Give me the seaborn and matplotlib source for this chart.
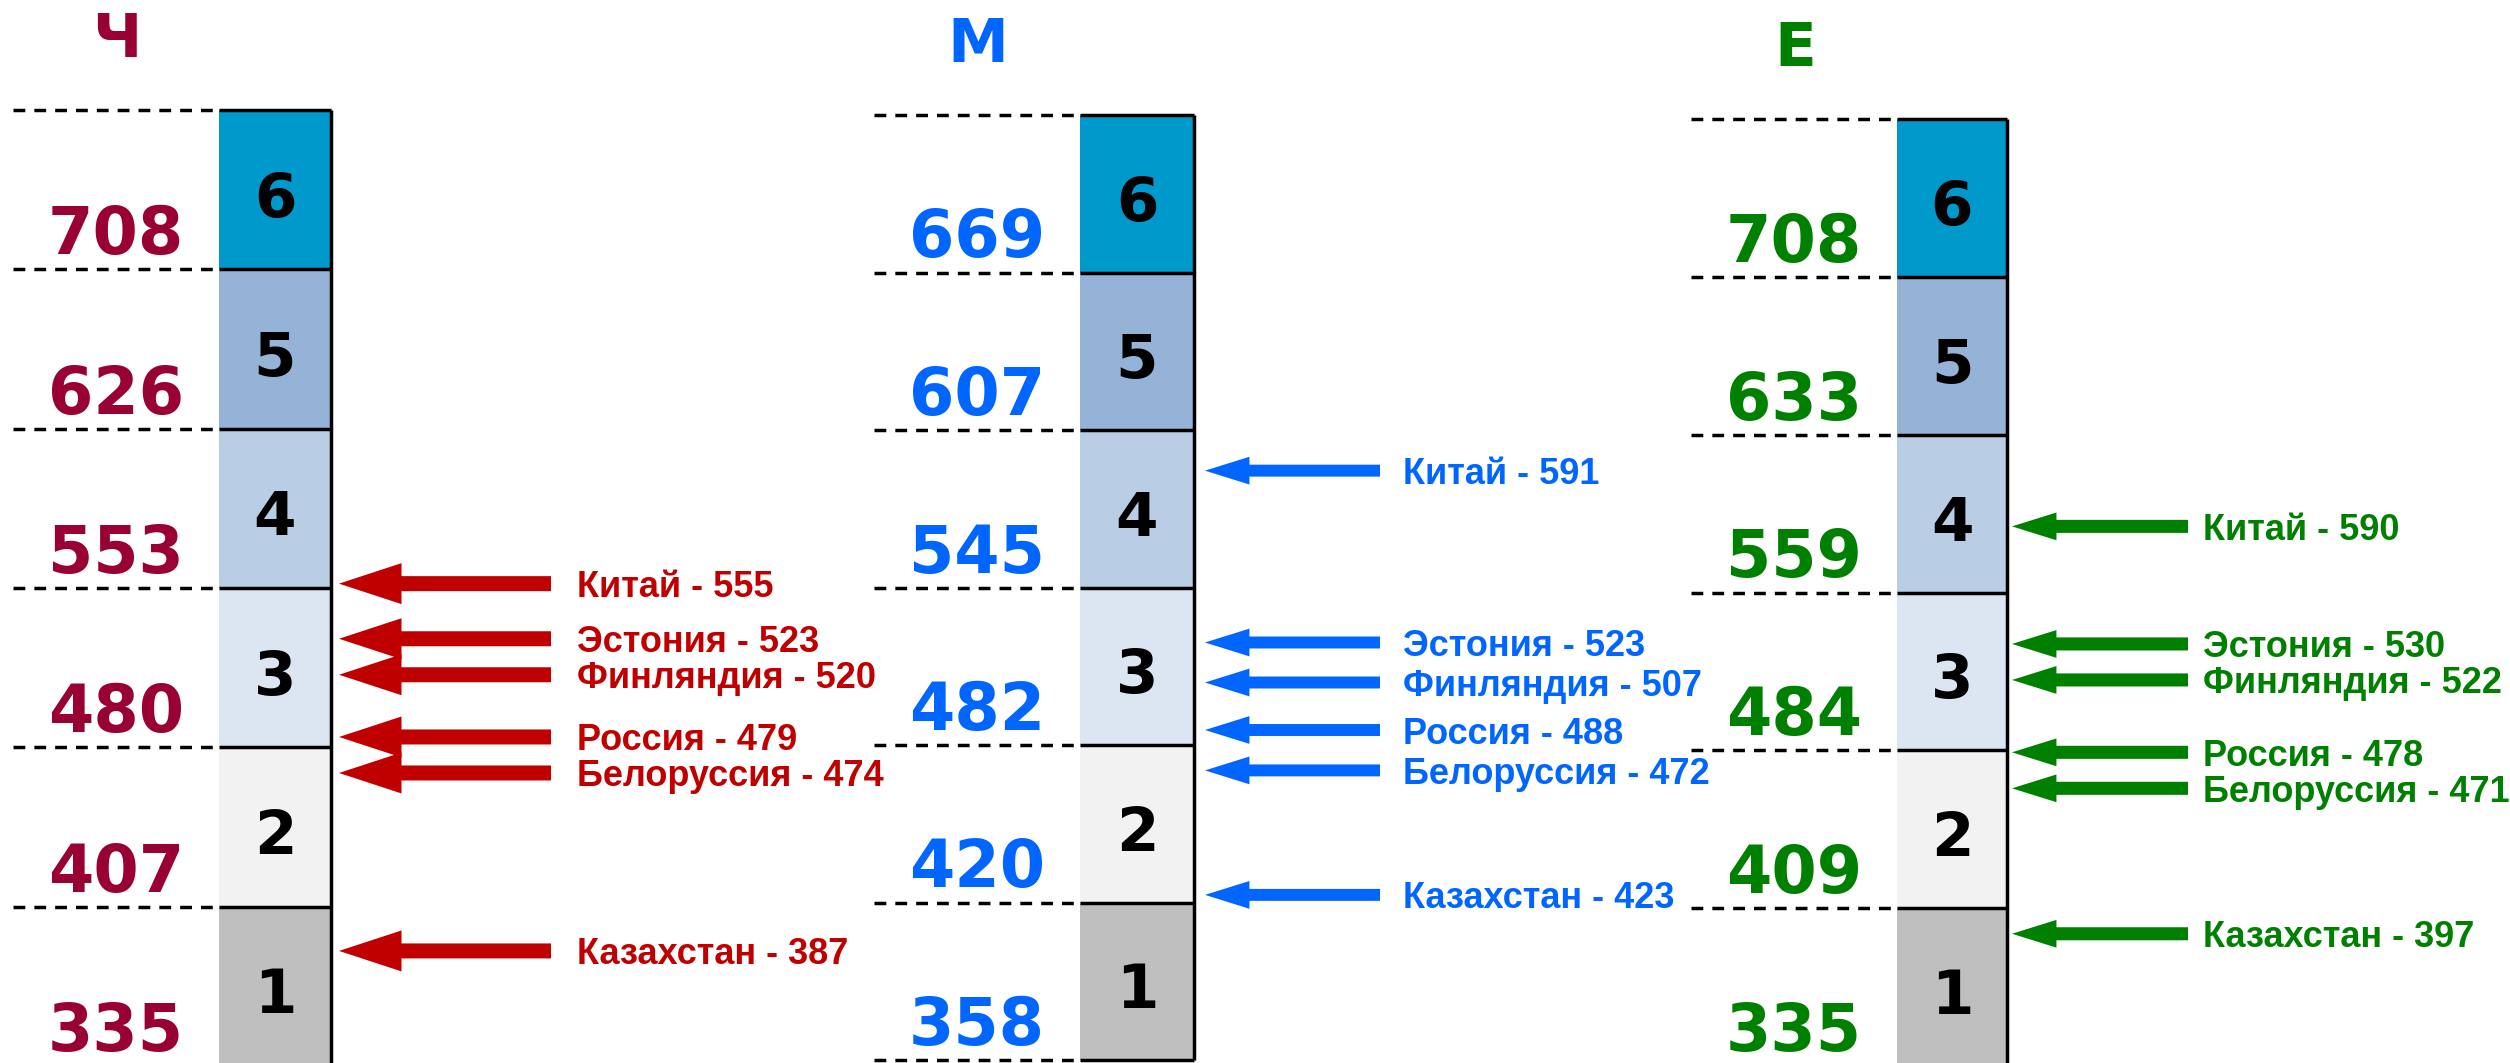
import numpy as np
import pandas as pd
import seaborn as sns
import matplotlib.pyplot as plt
from matplotlib.patches import ArrowStyle

# levels of the scale and their fill colours
levels = ['1', '2', '3', '4', '5', '6']
level_colors = ['#BFBFBF', '#F2F2F2', '#DCE6F2', '#B9CDE5', '#95B3D7', '#0099CC']

# subjects: lower score bound of each level (1..6)
subjects = ['Ч', 'М', 'Е']
bounds_ch = [335, 407, 480, 553, 626, 708]
bounds_m = [358, 420, 482, 545, 607, 669]
bounds_e = [335, 409, 484, 559, 633, 708]

# country averages
countries = ['Китай', 'Эстония', 'Финляндия', 'Россия', 'Белоруссия', 'Казахстан']
scores_ch = [555, 523, 520, 479, 474, 387]
scores_m = [591, 523, 507, 488, 472, 423]
scores_e = [590, 530, 522, 478, 471, 397]

# layout in figure pixels (block left, block width, block top, block bottom)
W, H = 2510, 1063
panels = [
    dict(name='Ч', bounds=bounds_ch, scores=scores_ch, x0=219, bw=112, top=110, bottom=1066,
         num_color='#990033', arr_color='#C00000',
         head=(45, 29.5, 10.8), tip=8, tail=220, lab=246),
    dict(name='М', bounds=bounds_m, scores=scores_m, x0=1080, bw=114, top=115, bottom=1060,
         num_color='#0066FF', arr_color='#0066FF',
         head=(32, 20, 8.6), tip=11, tail=186, lab=209),
    dict(name='Е', bounds=bounds_e, scores=scores_e, x0=1897, bw=110, top=119, bottom=1066,
         num_color='#008000', arr_color='#008000',
         head=(32, 20, 9.4), tip=5, tail=181, lab=196),
]

sns.set_style('white')
plt.rcParams['font.family'] = ['DejaVu Sans']

fig = plt.figure(figsize=(W / 100, H / 100), dpi=100)
fig.patch.set_facecolor('white')


def spread(pos, gap):
    # push neighbouring arrows apart so they do not overlap
    pos = np.array(pos, dtype=float)
    order = np.argsort(-pos)
    for _ in range(100):
        moved = False
        for a, b in zip(order[:-1], order[1:]):
            d = pos[a] - pos[b]
            if d < gap - 1e-9:
                shift = (gap - d) / 2
                pos[a] += shift
                pos[b] -= shift
                moved = True
        if not moved:
            break
    return pos


for p in panels:
    sp = (p['bottom'] - p['top']) / 6  # pixels per level
    ax = fig.add_axes([p['x0'] / W, (H - p['bottom']) / H, p['bw'] / W, (p['bottom'] - p['top']) / H])

    def px(dx):
        # horizontal pixel offset from the block's left edge -> data x
        return -0.5 + dx / p['bw']

    # stacked level blocks, tallest drawn first
    df = pd.DataFrame({'subject': p['name'], 'level': levels, 'top': [int(l) for l in levels]})
    sns.barplot(data=df, x='subject', y='top', hue='level', hue_order=levels[::-1],
                palette=dict(zip(levels, level_colors)), dodge=False, width=1,
                saturation=1, errorbar=None, legend=False, linewidth=0, ax=ax)
    ax.set_xlim(-0.5, 0.5)
    ax.set_ylim(0, 6)
    ax.set_axis_off()

    # block borders and dashed guide lines
    ax.hlines(range(7), -0.5, 0.5, colors='black', lw=2.5, clip_on=False)
    ax.vlines(0.5, 0, 6, colors='black', lw=2.5, clip_on=False)
    ax.hlines(range(7), px(-206), -0.5, colors='black', lw=2.5,
              linestyles=[(0, (3.4, 2.6))], clip_on=False)

    # level numbers
    for i, l in enumerate(levels):
        ax.text(0, i + 0.5 - 4 / sp, l, ha='center', va='center_baseline', fontsize=44,
                fontweight='bold', color='black', clip_on=False)

    # lower bound of each level
    for i, b in enumerate(p['bounds']):
        ax.text(px(-35), i + 15 / sp, str(b), ha='right', va='baseline', fontsize=47,
                fontweight='bold', color=p['num_color'], clip_on=False)

    # subject title
    ax.text(px(-102), 6 + 53 / sp, p['name'], ha='center', va='baseline', fontsize=44,
            fontweight='bold', color=p['num_color'], clip_on=False)

    # arrows for countries, positioned by score within the level scale
    ypos = np.interp(p['scores'], p['bounds'], np.arange(6))
    ypos = spread(ypos, 36 / sp)
    hl, hw, tw = p['head']
    style = ArrowStyle.Simple(head_length=hl, head_width=hw, tail_width=tw)
    for c, s, y in zip(countries, p['scores'], ypos):
        ax.annotate('', xy=(0.5 + p['tip'] / p['bw'], y), xytext=(0.5 + p['tail'] / p['bw'], y),
                    arrowprops=dict(arrowstyle=style, mutation_scale=1, shrinkA=0, shrinkB=0,
                                    fc=p['arr_color'], ec='none', lw=0),
                    annotation_clip=False)
        ax.text(0.5 + p['lab'] / p['bw'], y, f'{c} - {s}', ha='left', va='center_baseline',
                fontsize=26, fontweight='bold', family=['Liberation Sans', 'DejaVu Sans'],
                color=p['arr_color'], clip_on=False)

fig.savefig('out.png', dpi=100, facecolor='white')
